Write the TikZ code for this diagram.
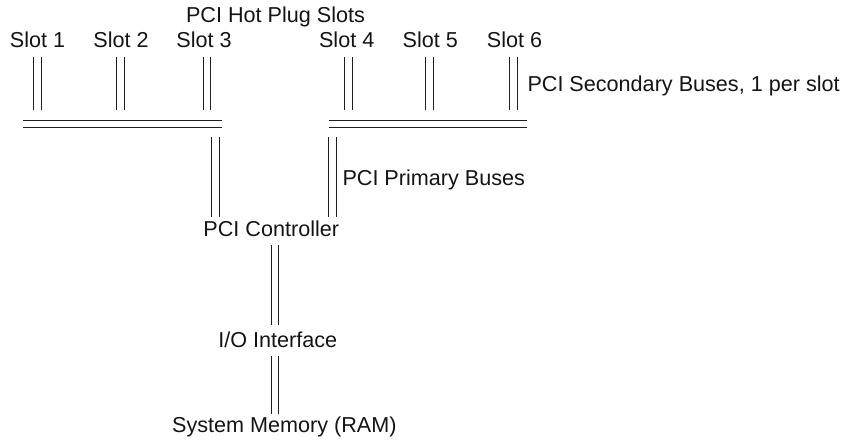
\documentclass[tikz,border=0pt]{standalone}
\usepackage{fontspec}
\setmainfont{Liberation Sans}
\begin{document}
\begin{tikzpicture}[x=1pt,y=-1pt,
  lbl/.style={inner sep=0pt,font=\fontsize{21.6}{24}\selectfont,text=black!92},
  vbus/.style={preaction={draw=black!88,line width=0.9pt,transform canvas={xshift=-3.9pt}},
               postaction={draw=black!88,line width=0.9pt,transform canvas={xshift=3.9pt}}},
  hbus/.style={preaction={draw=black!88,line width=0.9pt,transform canvas={yshift=-3.85pt}},
               postaction={draw=black!88,line width=0.9pt,transform canvas={yshift=3.85pt}}}]
\useasboundingbox (0,0) rectangle (848,440);
% labels
\node[lbl,anchor=base] (hot) at (275.5,22.7) {PCI Hot Plug Slots};
\node[lbl,anchor=base] (s1) at (37.5,47.7) {Slot 1};
\node[lbl,anchor=base] (s2) at (121,47.7) {Slot 2};
\node[lbl,anchor=base] (s3) at (204,47.7) {Slot 3};
\node[lbl,anchor=base] (s4) at (346.7,47.7) {Slot 4};
\node[lbl,anchor=base] (s5) at (430.3,47.7) {Slot 5};
\node[lbl,anchor=base] (s6) at (514.5,47.7) {Slot 6};
\node[lbl,anchor=base west] (sec) at (527.3,91.7) {PCI Secondary Buses, 1 per slot};
\node[lbl,anchor=base west] (prim) at (342.3,185) {PCI Primary Buses};
\node[lbl,anchor=base] (ctrl) at (271.3,236.7) {PCI Controller};
\node[lbl,anchor=base] (io) at (277.8,347.3) {I/O Interface};
\node[lbl,anchor=base] (mem) at (284.3,432.7) {System Memory (RAM)};
% coordinates
\coordinate (t1) at (37.5,56.7);  \coordinate (b1) at (37.5,110);
\coordinate (t2) at (120.5,56.7); \coordinate (b2) at (120.5,110);
\coordinate (t3) at (207,56.7);   \coordinate (b3) at (207,110);
\coordinate (t4) at (348.7,56.7); \coordinate (b4) at (348.7,110);
\coordinate (t5) at (429.5,56.7); \coordinate (b5) at (429.5,110);
\coordinate (t6) at (513.8,56.7); \coordinate (b6) at (513.8,110);
\coordinate (lbA) at (22.7,123.85); \coordinate (lbB) at (221.5,123.85);
\coordinate (rbA) at (329,123.85);  \coordinate (rbB) at (526.7,123.85);
\coordinate (pl) at (215.7,136.7); \coordinate (pr) at (332.8,136.7);
\coordinate (cl) at (215.7,216.7); \coordinate (cr) at (332.8,216.7);
\coordinate (c1) at (275,245);   \coordinate (c2) at (275,325);
\coordinate (i1) at (275,356);   \coordinate (i2) at (275,414.3);
% buses
\foreach \i in {1,...,6} {\path[vbus] (t\i) -- (b\i);}
\path[hbus] (lbA) -- (lbB);
\path[hbus] (rbA) -- (rbB);
\path[vbus] (pl) -- (cl);
\path[vbus] (pr) -- (cr);
\path[vbus] (c1) -- (c2);
\path[vbus] (i1) -- (i2);
\end{tikzpicture}
\end{document}
